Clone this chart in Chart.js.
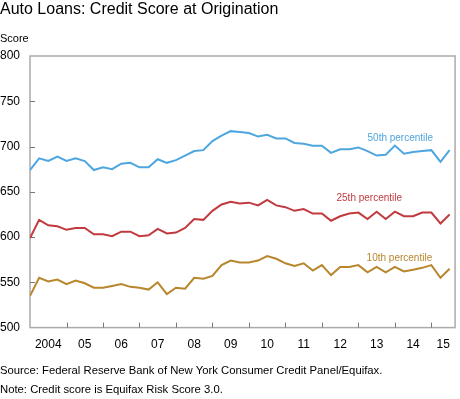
<!DOCTYPE html>
<html>
<head>
<meta charset="utf-8">
<script src="https://cdn.jsdelivr.net/npm/chart.js@4.4.1/dist/chart.umd.min.js"></script>
<style>
  body { margin: 0; background: #fff; font-family: "Liberation Sans", Arial, sans-serif; color: #000; }
  #wrap { position: relative; width: 460px; height: 399px; overflow: hidden; }
  canvas { position: absolute; left: 0; top: 0; }
  .txt { position: absolute; left: 0; white-space: nowrap; }
  #title { top: 0; font-size: 16px; line-height: 18px; }
  #unit { top: 31px; font-size: 11px; line-height: 14px; }
  #source { top: 363px; font-size: 11.3px; line-height: 14px; }
  #note { top: 382px; font-size: 11.3px; line-height: 14px; }
</style>
</head>
<body>
<div id="wrap">
  <canvas id="chart" width="460" height="399"></canvas>
  <div class="txt" id="title">Auto Loans: Credit Score at Origination</div>
  <div class="txt" id="unit">Score</div>
  <div class="txt" id="source">Source: Federal Reserve Bank of New York Consumer Credit Panel/Equifax.</div>
  <div class="txt" id="note">Note: Credit score is Equifax Risk Score 3.0.</div>
</div>
<script>
// quarterly, 2004Q1 - 2015Q3
const YEAR_LABELS = ['2004', '05', '06', '07', '08', '09', '10', '11', '12', '13', '14', '15'];
const Y_TICKS = [500, 550, 600, 650, 700, 750, 800];

const P50 = [674, 687, 684, 689, 684, 687, 684, 674, 677, 675, 681, 682, 677, 677, 686, 682,
             685, 690, 695, 696, 706, 712, 717, 716, 715, 711, 713, 709, 709, 704, 703, 701,
             701, 693, 697, 697, 699, 695, 690, 691, 701, 692, 694, 695, 696, 683, 696];
const P25 = [599, 619, 613, 612, 608, 610, 610, 603, 603, 601, 606, 606, 601, 602, 609, 604,
             605, 610, 620, 619, 629, 636, 639, 637, 638, 635, 641, 635, 633, 629, 631, 626,
             626, 618, 623, 626, 627, 620, 628, 620, 628, 623, 623, 627, 627, 615, 625];
const P10 = [535, 555, 551, 553, 548, 552, 549, 544, 544, 546, 548, 545, 544, 542, 550, 537,
             544, 543, 555, 554, 557, 569, 574, 572, 572, 574, 579, 576, 571, 568, 571, 563,
             569, 558, 567, 567, 569, 561, 567, 561, 567, 562, 564, 566, 569, 555, 565];

const BLUE = '#4ea6e0';
const RED = '#c13a3f';
const GOLD = '#b8862c';

function toPoints(arr) {
  return arr.map((v, i) => ({ x: i, y: v }));
}

// frame, inner tick marks, line labels
const framePlugin = {
  id: 'frame',
  beforeDatasetsDraw(chart) {
    const { ctx, chartArea: a, scales: { x, y } } = chart;
    ctx.save();
    ctx.strokeStyle = '#ababab';
    ctx.lineWidth = 1.5;
    ctx.strokeRect(a.left, a.top, a.right - a.left, a.bottom - a.top);
    ctx.strokeStyle = '#777';
    ctx.lineWidth = 1;
    ctx.beginPath();
    Y_TICKS.slice(1, -1).forEach(v => {
      const py = Math.round(y.getPixelForValue(v)) + 0.5;
      ctx.moveTo(a.left, py);
      ctx.lineTo(a.left + 5, py);
    });
    for (let k = 1; k < YEAR_LABELS.length; k++) {
      const px = Math.round(x.getPixelForValue(4 * k)) + 0.5;
      ctx.moveTo(px, a.bottom);
      ctx.lineTo(px, a.bottom - 5);
    }
    ctx.stroke();
    ctx.restore();
  },
  afterDatasetsDraw(chart) {
    const { ctx, scales: { x, y } } = chart;
    ctx.save();
    ctx.font = '10px "Liberation Sans", Arial, sans-serif';
    ctx.textBaseline = 'middle';
    chart.data.datasets.forEach(ds => {
      ctx.fillStyle = ds.borderColor;
      ctx.fillText(ds.label, x.getPixelForValue(ds.tagX), y.getPixelForValue(ds.tagY));
    });
    ctx.restore();
  }
};

new Chart(document.getElementById('chart'), {
  type: 'line',
  data: {
    datasets: [
      { label: '50th percentile', data: toPoints(P50), borderColor: BLUE, tagX: 37, tagY: 709 },
      { label: '25th percentile', data: toPoints(P25), borderColor: RED, tagX: 33.6, tagY: 643 },
      { label: '10th percentile', data: toPoints(P10), borderColor: GOLD, tagX: 36.9, tagY: 577 }
    ]
  },
  options: {
    responsive: false,
    animation: false,
    devicePixelRatio: 1,
    layout: { padding: { top: 56, right: 4, bottom: 37, left: 0 } },
    elements: {
      line: { borderWidth: 2, tension: 0 },
      point: { radius: 0 }
    },
    plugins: {
      legend: { display: false },
      tooltip: { enabled: false }
    },
    scales: {
      x: {
        type: 'linear',
        min: 0,
        max: 46.6,
        grid: { display: false, drawTicks: false },
        border: { display: false },
        afterBuildTicks: axis => {
          const n = YEAR_LABELS.length;
          axis.ticks = YEAR_LABELS.map((l, k) => ({ value: k < n - 1 ? 4 * k + 2 : (4 * k + axis.max) / 2 }));
        },
        ticks: {
          autoSkip: false,
          maxRotation: 0,
          padding: 10,
          color: '#000',
          font: { family: '"Liberation Sans", Arial, sans-serif', size: 12 },
          callback: (v, i) => YEAR_LABELS[i]
        }
      },
      y: {
        min: 500,
        max: 800,
        grid: { display: false, drawTicks: false },
        border: { display: false },
        afterBuildTicks: axis => {
          axis.ticks = Y_TICKS.map(v => ({ value: v }));
        },
        ticks: {
          crossAlign: 'far',
          padding: 5,
          color: '#000',
          font: { family: '"Liberation Sans", Arial, sans-serif', size: 12 }
        }
      }
    }
  },
  plugins: [framePlugin]
});
</script>
</body>
</html>
